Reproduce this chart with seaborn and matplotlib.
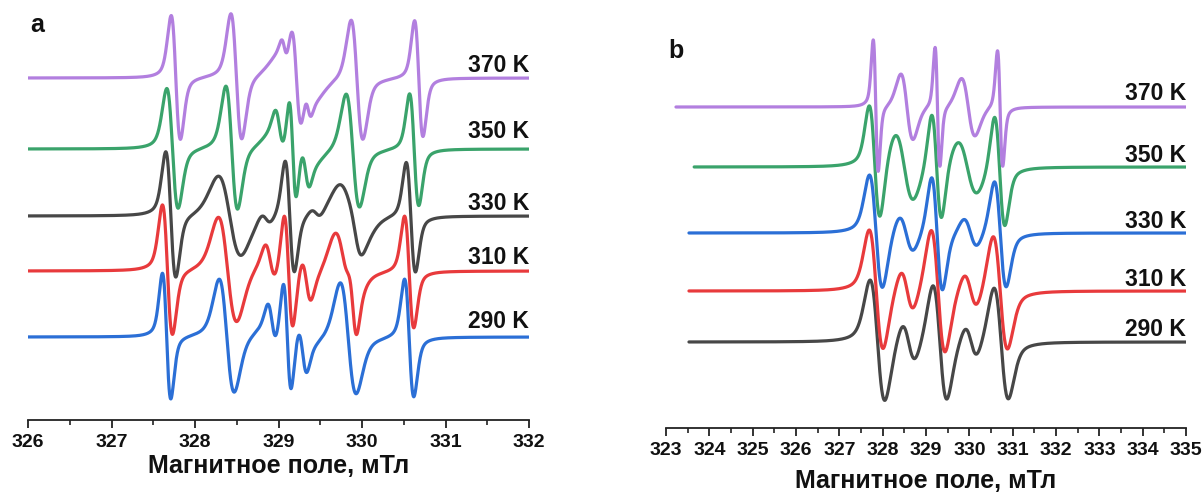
import numpy as np
import pandas as pd
import matplotlib
matplotlib.use("Agg")
import matplotlib.pyplot as plt
from matplotlib.ticker import MultipleLocator
import seaborn as sns

sns.set_theme(style="white")
plt.rcParams["font.family"] = ["Liberation Sans", "DejaVu Sans"]
plt.rcParams["font.weight"] = "bold"

temps = [290, 310, 330, 350, 370]
temp_labels = ["290 K", "310 K", "330 K", "350 K", "370 K"]

# Resonance lines of each EPR trace: (centre, mT), (peak-to-peak width, mT), (amplitude)
a_290 = [(327.66, 0.10, 63), (328.38, 0.18, 57), (328.92, 0.10, 19), (329.105, 0.09, 50),
         (329.29, 0.10, 22), (329.105, 0.37, 14), (329.835, 0.19, 56), (330.565, 0.11, 59)]
a_310 = [(327.67, 0.12, 65), (328.39, 0.22, 53), (328.90, 0.12, 18), (329.12, 0.10, 54),
         (329.335, 0.11, 21), (329.12, 0.43, 10), (329.79, 0.22, 40), (329.895, 0.09, 26),
         (330.565, 0.11, 56)]
a_330 = [(327.71, 0.12, 63), (328.415, 0.27, 40), (328.85, 0.12, 6), (329.135, 0.11, 56),
         (329.45, 0.12, 5), (329.865, 0.27, 31), (329.93, 0.12, 8), (330.585, 0.11, 55)]
a_350 = [(327.73, 0.135, 60), (328.44, 0.14, 62), (329.01, 0.10, 18), (329.17, 0.08, 44),
         (329.325, 0.09, 17), (329.17, 0.36, 20), (329.89, 0.16, 57), (330.625, 0.11, 56)]
a_370 = [(327.77, 0.11, 62), (328.495, 0.13, 63), (329.07, 0.07, 10), (329.215, 0.10, 36),
         (329.355, 0.07, 10), (329.215, 0.35, 25), (329.94, 0.14, 60), (330.68, 0.10, 58)]

b_290 = [(327.88, 0.34, 61), (328.60, 0.30, 20), (329.32, 0.32, 58), (330.04, 0.28, 16),
         (330.735, 0.33, 56)]
b_310 = [(327.85, 0.32, 60), (328.565, 0.29, 21), (329.28, 0.32, 62), (330.03, 0.30, 18),
         (330.715, 0.33, 57)]
b_330 = [(327.845, 0.30, 57), (328.545, 0.33, 19), (329.255, 0.25, 57), (330.025, 0.31, 15),
         (330.715, 0.27, 53)]
b_350 = [(327.815, 0.25, 58), (328.50, 0.42, 35), (329.245, 0.23, 55), (329.955, 0.45, 28),
         (330.70, 0.24, 56)]
b_370 = [(327.84, 0.115, 66), (328.56, 0.28, 33), (329.265, 0.11, 60), (329.975, 0.31, 29),
         (330.71, 0.12, 58)]

# Sweep ranges (mT)
a_sweep = [(326.0, 332.0)] * 5
b_sweep = [(323.53, 335.0), (323.53, 335.0), (323.53, 335.0), (323.65, 335.0), (323.23, 335.0)]

# Tick marks on the field axes
a_ticks = list(range(326, 333))
b_ticks = list(range(323, 336))

# Vertical stacking of the traces and their labels
a_levels = [-337, -271, -216, -149, -78]
b_levels = [-342, -291, -233, -167, -107]
a_label_y = [-322, -258, -203, -132, -65]
b_label_y = [-330, -280, -221, -156, -93]

a_colors = ["#2b6fd6", "#e83a3c", "#474747", "#3aa36b", "#b27fdf"]
b_colors = ["#474747", "#e83a3c", "#2b6fd6", "#3aa36b", "#b27fdf"]

LORENTZ_FRACTION = 0.4


def derivative_line(x, centre, width, amp, eta=LORENTZ_FRACTION):
    """First-derivative pseudo-Voigt line, scaled so its lobes reach +/- amp."""
    g = width * np.sqrt(3) / 2
    u = (x - centre) / g
    lor = -2 * u / (1 + u ** 2) ** 2 * (8 * np.sqrt(3) / 9)
    v = (x - centre) / (width / 2)
    gau = -v * np.exp(-(v ** 2 - 1) / 2)
    return amp * (eta * lor + (1 - eta) * gau)


def build_frame(line_sets, sweeps, levels, step):
    rows = []
    for t, lines, (lo, hi), lev in zip(temps, line_sets, sweeps, levels):
        field = np.arange(lo, hi + step / 2, step)
        sig = np.full_like(field, lev, dtype=float)
        for c, w, a in lines:
            sig += derivative_line(field, c, w, a)
        rows.append(pd.DataFrame({"field": field, "signal": sig, "temp": t}))
    return pd.concat(rows, ignore_index=True)


df_a = build_frame([a_290, a_310, a_330, a_350, a_370], a_sweep, a_levels, 0.002)
df_b = build_frame([b_290, b_310, b_330, b_350, b_370], b_sweep, b_levels, 0.004)

W, H = 1204, 492
fig = plt.figure(figsize=(W / 100, H / 100), dpi=100)
ax_a = fig.add_axes([28 / W, (H - 420) / H, 501 / W, 420 / H])
ax_b = fig.add_axes([666 / W, (H - 428) / H, 520 / W, 428 / H])


def style_axis(ax, xlim, ticks, ylim_bottom, label_offset, tick_size):
    ax.set_xlim(*xlim)
    ax.set_ylim(ylim_bottom, 0)
    ax.set_facecolor("none")
    sns.despine(ax=ax, left=True, top=True, right=True)
    ax.spines["bottom"].set_color("#222222")
    ax.spines["bottom"].set_linewidth(1.3)
    ax.set_yticks([])
    ax.set_ylabel("")
    ax.set_xticks(ticks)
    ax.set_xticklabels([str(t) for t in ticks], fontsize=tick_size,
                       fontweight="bold", color="#111111")
    ax.xaxis.set_minor_locator(MultipleLocator(0.5))
    ax.tick_params(axis="x", which="major", direction="out", length=6, width=1.3,
                   color="#222222", pad=4, bottom=True)
    ax.tick_params(axis="x", which="minor", direction="out", length=3.5, width=1.2,
                   color="#222222", bottom=True)
    ax.set_xlabel("Магнитное поле, мТл", fontsize=18, fontweight="bold", color="#111111")
    ax.xaxis.set_label_coords(0.5, label_offset)
    ax.xaxis.label.set_verticalalignment("center")


sns.lineplot(data=df_a, x="field", y="signal", hue="temp",
             palette=dict(zip(temps, a_colors)), estimator=None, sort=False,
             linewidth=2.3, legend=False, ax=ax_a)
sns.lineplot(data=df_b, x="field", y="signal", hue="temp",
             palette=dict(zip(temps, b_colors)), estimator=None, sort=False,
             linewidth=2.3, legend=False, ax=ax_b)

style_axis(ax_a, (326, 332), a_ticks, -420, -(466 - 420) / 420, 14)
style_axis(ax_b, (323, 335), b_ticks, -428, -(481 - 428) / 428, 14)

for lab, y in zip(temp_labels, a_label_y):
    ax_a.text(332, y, lab, ha="right", va="center", fontsize=16.5,
              fontweight="bold", color="#111111")
for lab, y in zip(temp_labels, b_label_y):
    ax_b.text(335, y, lab, ha="right", va="center", fontsize=16.5,
              fontweight="bold", color="#111111")

fig.text(37 / W, 1 - 25 / H, "a", ha="center", va="center", fontsize=18,
         fontweight="bold", color="#111111")
fig.text(676 / W, 1 - 51 / H, "b", ha="center", va="center", fontsize=18,
         fontweight="bold", color="#111111")

fig.savefig("out.png", dpi=100, facecolor="white")
